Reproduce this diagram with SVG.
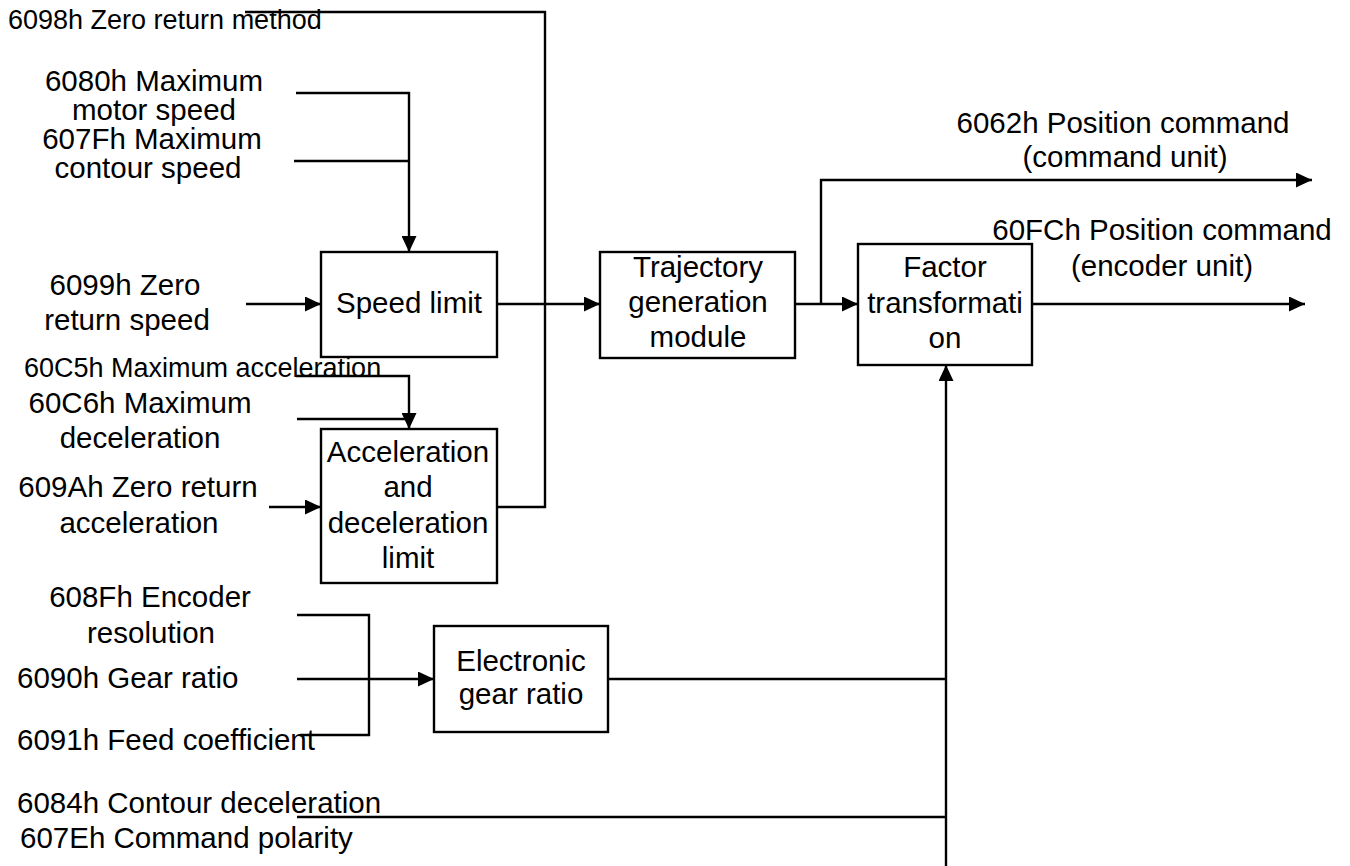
<svg xmlns="http://www.w3.org/2000/svg" width="1350" height="866" viewBox="0 0 1350 866">
  <style>
    text { font-family: "Liberation Sans", Arial, sans-serif; font-size: 29.5px; fill: #000; }
    .sm { font-size: 27px; }
    .c { text-anchor: middle; }
    .box { fill: #fff; stroke: #000; stroke-width: 2.4; }
    .ln { fill: none; stroke: #000; stroke-width: 2.4; }
  </style>
  <defs>
    <marker id="arrow" viewBox="0 0 16 15" refX="16" refY="7.5" markerWidth="16" markerHeight="15" markerUnits="userSpaceOnUse" orient="auto">
      <path d="M0,0 L16,7.5 L0,15 z" fill="#000"/>
    </marker>
  </defs>

  <rect width="1350" height="866" fill="#fff"/>

  <!-- input labels -->
  <g id="inputs">
    <text class="sm" x="8" y="29">6098h Zero return method</text>
    <text class="c" x="154" y="91">6080h Maximum</text>
    <text class="c" x="154" y="120">motor speed</text>
    <text class="c" x="152" y="149">607Fh Maximum</text>
    <text class="c" x="148" y="178">contour speed</text>
    <text class="c" x="125" y="295">6099h Zero</text>
    <text class="c" x="127" y="330">return speed</text>
    <text class="sm" x="24" y="377">60C5h Maximum acceleration</text>
    <text class="c" x="140" y="413">60C6h Maximum</text>
    <text class="c" x="140" y="448">deceleration</text>
    <text class="c" x="138" y="497">609Ah Zero return</text>
    <text class="c" x="139" y="533">acceleration</text>
    <text class="c" x="150" y="607">608Fh Encoder</text>
    <text class="c" x="151" y="643">resolution</text>
    <text x="17" y="688">6090h Gear ratio</text>
    <text x="17" y="750">6091h Feed coefficient</text>
    <text x="17" y="813">6084h Contour deceleration</text>
    <text x="20" y="848">607Eh Command polarity</text>
  </g>

  <!-- output labels -->
  <g id="outputs">
    <text class="c" x="1123" y="133">6062h Position command</text>
    <text class="c" x="1125" y="167">(command unit)</text>
    <text class="c" x="1162" y="240">60FCh Position command</text>
    <text class="c" x="1162" y="276">(encoder unit)</text>
  </g>

  <!-- connectors -->
  <g id="connectors">
    <!-- speed limits into Speed limit block -->
    <polyline class="ln" points="296,93 409,93 409,252" marker-end="url(#arrow)"/>
    <line class="ln" x1="294" y1="161" x2="409" y2="161"/>
    <line class="ln" x1="246" y1="304" x2="321" y2="304" marker-end="url(#arrow)"/>
    <!-- acceleration limits into Acceleration block -->
    <polyline class="ln" points="296,376 409,376 409,429" marker-end="url(#arrow)"/>
    <line class="ln" x1="297" y1="419" x2="409" y2="419"/>
    <line class="ln" x1="269" y1="507" x2="321" y2="507" marker-end="url(#arrow)"/>
    <!-- zero return method and acceleration output bus -->
    <polyline class="ln" points="245,12 545,12 545,507 497,507"/>
    <!-- Speed limit to Trajectory generation -->
    <line class="ln" x1="497" y1="304" x2="600" y2="304" marker-end="url(#arrow)"/>
    <!-- Trajectory generation to Factor transformation -->
    <line class="ln" x1="795" y1="304" x2="858" y2="304" marker-end="url(#arrow)"/>
    <!-- command unit output -->
    <polyline class="ln" points="821,304 821,180 1312,180" marker-end="url(#arrow)"/>
    <!-- encoder unit output -->
    <line class="ln" x1="1032" y1="304" x2="1305" y2="304" marker-end="url(#arrow)"/>
    <!-- gear ratio inputs -->
    <polyline class="ln" points="297,615 369,615 369,735 300,735"/>
    <line class="ln" x1="297" y1="679" x2="434" y2="679" marker-end="url(#arrow)"/>
    <!-- Electronic gear ratio and parameters into Factor transformation -->
    <line class="ln" x1="608" y1="679" x2="946" y2="679"/>
    <line class="ln" x1="297" y1="817" x2="946" y2="817"/>
    <line class="ln" x1="946" y1="866" x2="946" y2="365" marker-end="url(#arrow)"/>
  </g>

  <g id="speed-limit">
    <rect class="box" x="321" y="252" width="176" height="105"/>
    <text class="c" x="409" y="313">Speed limit</text>
  </g>

  <g id="accel-limit">
    <rect class="box" x="321" y="429" width="176" height="154"/>
    <text class="c" x="408" y="462">Acceleration</text>
    <text class="c" x="408" y="497">and</text>
    <text class="c" x="408" y="533">deceleration</text>
    <text class="c" x="408" y="568">limit</text>
  </g>

  <g id="trajectory">
    <rect class="box" x="600" y="252" width="195" height="106"/>
    <text class="c" x="698" y="277">Trajectory</text>
    <text class="c" x="698" y="312">generation</text>
    <text class="c" x="698" y="347">module</text>
  </g>

  <g id="factor">
    <rect class="box" x="858" y="244" width="174" height="121"/>
    <text class="c" x="945" y="277">Factor</text>
    <text class="c" x="945" y="313">transformati</text>
    <text class="c" x="945" y="348">on</text>
  </g>

  <g id="gear-ratio">
    <rect class="box" x="434" y="626" width="174" height="106"/>
    <text class="c" x="521" y="671">Electronic</text>
    <text class="c" x="521" y="704">gear ratio</text>
  </g>
</svg>
